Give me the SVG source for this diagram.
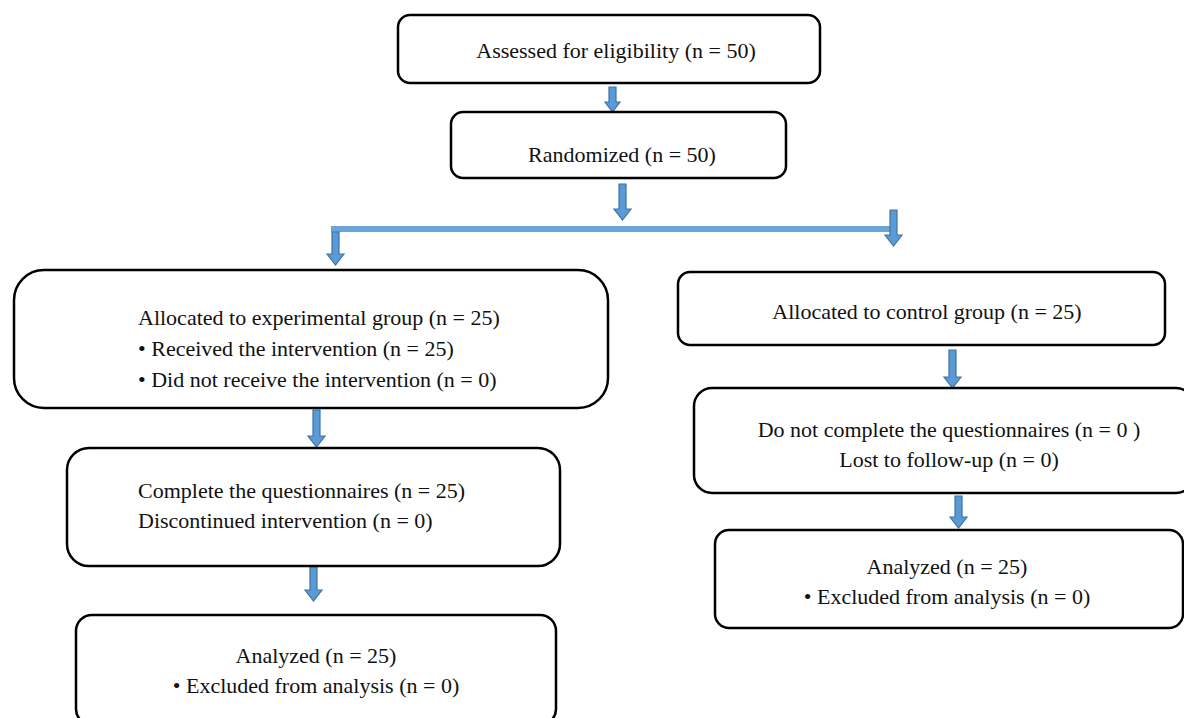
<svg xmlns="http://www.w3.org/2000/svg" width="1184" height="718" viewBox="0 0 1184 718">
<style>
.box{fill:#fff;stroke:#000;stroke-width:2.5}
.t{font-family:"Liberation Serif",serif;font-size:22px;fill:#111}
.m{text-anchor:middle}
.arr{fill:#5b9bd5;stroke:#3f72a6;stroke-width:1.2}
</style>
<rect width="1184" height="718" fill="#fff"/>
<g id="connectors">
<path class="arr" d="M609,87 H616 V102 H620 L612.5,112 L605,102 H609 Z"/>
<path class="arr" d="M619,184 H626 V209 H631 L622.5,220 L614,209 H619 Z"/>
<rect x="331" y="226" width="560" height="6" fill="#6aa5d8"/>
<path class="arr" d="M332,232 H339 V254 H344 L335.5,265 L327,254 H332 Z"/>
<path class="arr" d="M890,210 H897 V235 H902 L893.5,246 L885,235 H890 Z"/>
<path class="arr" d="M949,350 H956 V377 H961 L952.5,388 L944,377 H949 Z"/>
<path class="arr" d="M955,496 H962 V517 H967 L958.5,528 L950,517 H955 Z"/>
<path class="arr" d="M313,410 H320 V436 H325 L316.5,447 L308,436 H313 Z"/>
<path class="arr" d="M310,567 H317 V590 H322 L313.5,601 L305,590 H310 Z"/>
</g>
<g id="assessed">
<rect class="box" x="398" y="15" width="422" height="68" rx="12"/>
<text class="t m" x="616" y="58">Assessed for eligibility (n = 50)</text>
</g>
<g id="randomized">
<rect class="box" x="451" y="112" width="335" height="66" rx="12"/>
<text class="t m" x="622" y="162">Randomized (n = 50)</text>
</g>
<g id="experimental">
<rect class="box" x="14" y="270" width="594" height="138" rx="30"/>
<text class="t" x="138" y="325">Allocated to experimental group (n = 25)</text>
<text class="t" x="138" y="356">• Received the intervention (n = 25)</text>
<text class="t" x="138" y="387">• Did not receive the intervention (n = 0)</text>
</g>
<g id="control">
<rect class="box" x="678" y="272" width="487" height="73" rx="12"/>
<text class="t m" x="927" y="319">Allocated to control group (n = 25)</text>
</g>
<g id="not-complete">
<rect class="box" x="694" y="388" width="500" height="105" rx="18"/>
<text class="t m" x="949" y="437">Do not complete the questionnaires (n = 0 )</text>
<text class="t m" x="949" y="467">Lost to follow-up (n = 0)</text>
</g>
<g id="analyzed-control">
<rect class="box" x="715" y="530" width="468" height="98" rx="14"/>
<text class="t m" x="947" y="574">Analyzed (n = 25)</text>
<text class="t m" x="947" y="604">• Excluded from analysis (n = 0)</text>
</g>
<g id="complete">
<rect class="box" x="67" y="448" width="493" height="118" rx="22"/>
<text class="t" x="138" y="498">Complete the questionnaires (n = 25)</text>
<text class="t" x="138" y="528">Discontinued intervention (n = 0)</text>
</g>
<g id="analyzed-exp">
<rect class="box" x="76" y="615" width="480" height="110" rx="16"/>
<text class="t m" x="316" y="663">Analyzed (n = 25)</text>
<text class="t m" x="316" y="693">• Excluded from analysis (n = 0)</text>
</g>
</svg>
